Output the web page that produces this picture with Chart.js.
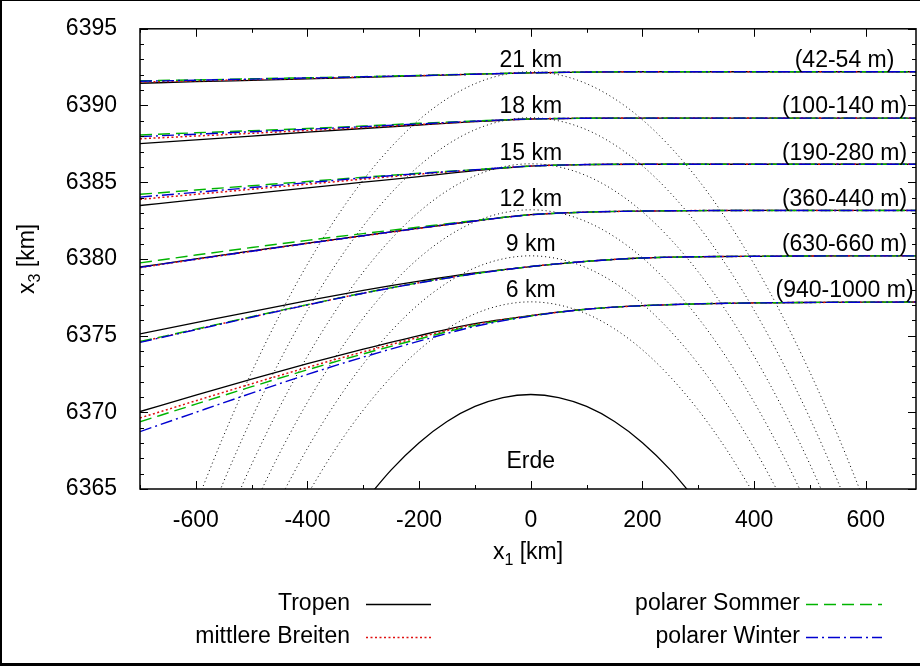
<!DOCTYPE html>
<html>
<head>
<meta charset="utf-8">
<script src="https://cdn.jsdelivr.net/npm/chart.js@4.4.1/dist/chart.umd.min.js"></script>
<style>
  html, body { margin: 0; padding: 0; background: #fff; }
  canvas { display: block; }
</style>
</head>
<body>
<canvas id="chart" width="920" height="666"></canvas>
<script>
// ray paths, x positions in km
const rayX = [-700, -600, -500, -400, -300, -200, -100, 0, 100, 200, 300, 400, 500, 600, 700];
const heightLabels = ['6 km', '9 km', '12 km', '15 km', '18 km', '21 km'];
const rangeLabels = ['(940-1000 m)', '(630-660 m)', '(360-440 m)', '(190-280 m)', '(100-140 m)', '(42-54 m)'];

// left part of each ray, x = -700 .. 0 (one row per height)
const tropen = [
  [6370.05, 6371.12, 6372.17, 6373.18, 6374.12, 6375.00, 6375.78, 6376.30],
  [6375.11, 6375.84, 6376.57, 6377.28, 6377.95, 6378.55, 6379.08, 6379.50],
  [6379.47, 6380.00, 6380.52, 6381.03, 6381.52, 6382.00, 6382.47, 6382.88],
  [6383.48, 6383.86, 6384.25, 6384.63, 6385.00, 6385.37, 6385.75, 6386.05],
  [6387.51, 6387.76, 6388.01, 6388.26, 6388.50, 6388.73, 6388.95, 6389.12],
  [6391.45, 6391.55, 6391.64, 6391.73, 6391.83, 6391.93, 6392.04, 6392.13]
];
const mittlere = [
  [6369.63, 6370.75, 6371.86, 6372.93, 6373.94, 6374.89, 6375.73, 6376.30],
  [6374.59, 6375.40, 6376.21, 6377.01, 6377.77, 6378.45, 6379.04, 6379.50],
  [6379.43, 6379.97, 6380.49, 6381.01, 6381.50, 6381.99, 6382.47, 6382.88],
  [6383.88, 6384.21, 6384.54, 6384.87, 6385.20, 6385.52, 6385.80, 6386.05],
  [6387.83, 6388.01, 6388.19, 6388.37, 6388.56, 6388.76, 6388.96, 6389.12],
  [6391.53, 6391.61, 6391.69, 6391.77, 6391.86, 6391.95, 6392.04, 6392.13]
];
const sommer = [
  [6369.38, 6370.53, 6371.67, 6372.77, 6373.81, 6374.78, 6375.67, 6376.28],
  [6374.61, 6375.42, 6376.23, 6377.02, 6377.77, 6378.45, 6379.04, 6379.50],
  [6379.74, 6380.25, 6380.74, 6381.21, 6381.65, 6382.08, 6382.50, 6382.88],
  [6384.21, 6384.49, 6384.77, 6385.05, 6385.32, 6385.58, 6385.82, 6386.05],
  [6388.08, 6388.22, 6388.36, 6388.50, 6388.66, 6388.84, 6388.99, 6389.12],
  [6391.61, 6391.67, 6391.74, 6391.81, 6391.88, 6391.96, 6392.05, 6392.13]
];
const winter = [
  [6368.74, 6370.00, 6371.25, 6372.47, 6373.60, 6374.64, 6375.60, 6376.27],
  [6374.56, 6375.38, 6376.20, 6377.00, 6377.76, 6378.44, 6379.03, 6379.50],
  [6379.45, 6379.98, 6380.50, 6381.01, 6381.51, 6382.00, 6382.47, 6382.88],
  [6384.03, 6384.34, 6384.65, 6384.97, 6385.28, 6385.56, 6385.81, 6386.05],
  [6387.97, 6388.13, 6388.29, 6388.45, 6388.62, 6388.80, 6388.98, 6389.12],
  [6391.58, 6391.65, 6391.72, 6391.79, 6391.87, 6391.95, 6392.04, 6392.13]
];
// right part, x = 100 .. 700, same for all four atmospheres
const rayRight = [
  [6376.72, 6376.95, 6377.07, 6377.13, 6377.16, 6377.18, 6377.19],
  [6379.84, 6380.06, 6380.14, 6380.17, 6380.19, 6380.20, 6380.20],
  [6383.05, 6383.12, 6383.15, 6383.16, 6383.16, 6383.16, 6383.16],
  [6386.15, 6386.17, 6386.17, 6386.17, 6386.17, 6386.17, 6386.17],
  [6389.17, 6389.18, 6389.18, 6389.18, 6389.18, 6389.18, 6389.18],
  [6392.18, 6392.20, 6392.20, 6392.20, 6392.20, 6392.20, 6392.20]
];

// dotted arcs at constant height
const arcX = [-600, -550, -500, -450, -400, -350, -300, -250, -200, -150, -100, -50, 0,
              50, 100, 150, 200, 250, 300, 350, 400, 450, 500, 550, 600];
const arcs = [
  [null, null, null, null, 6364.66, 6367.60, 6370.15, 6372.30, 6374.07, 6375.44, 6376.42, 6377.00, 6377.20,
   6377.00, 6376.42, 6375.44, 6374.07, 6372.30, 6370.15, 6367.60, 6364.66, null, null, null, null],
  [null, null, null, 6364.33, 6367.66, 6370.60, 6373.15, 6375.30, 6377.07, 6378.44, 6379.42, 6380.00, 6380.20,
   6380.00, 6379.42, 6378.44, 6377.07, 6375.30, 6373.15, 6370.60, 6367.66, 6364.33, null, null, null],
  [null, null, 6363.61, 6367.33, 6370.66, 6373.60, 6376.15, 6378.30, 6380.07, 6381.44, 6382.42, 6383.00, 6383.20,
   6383.00, 6382.42, 6381.44, 6380.07, 6378.30, 6376.15, 6373.60, 6370.66, 6367.33, 6363.61, null, null],
  [null, 6362.49, 6366.61, 6370.33, 6373.66, 6376.60, 6379.15, 6381.30, 6383.07, 6384.44, 6385.42, 6386.00, 6386.20,
   6386.00, 6385.42, 6384.44, 6383.07, 6381.30, 6379.15, 6376.60, 6373.66, 6370.33, 6366.61, 6362.49, null],
  [6360.99, 6365.49, 6369.61, 6373.33, 6376.66, 6379.60, 6382.15, 6384.30, 6386.07, 6387.44, 6388.42, 6389.00, 6389.20,
   6389.00, 6388.42, 6387.44, 6386.07, 6384.30, 6382.15, 6379.60, 6376.66, 6373.33, 6369.61, 6365.49, 6360.99],
  [6363.99, 6368.49, 6372.61, 6376.33, 6379.66, 6382.60, 6385.15, 6387.30, 6389.07, 6390.44, 6391.42, 6392.00, 6392.20,
   6392.00, 6391.42, 6390.44, 6389.07, 6387.30, 6385.15, 6382.60, 6379.66, 6376.33, 6372.61, 6368.49, 6363.99]
];

// Earth surface
const earthX = [-300, -250, -200, -150, -100, -50, 0, 50, 100, 150, 200, 250, 300];
const earth = [6364.10, 6366.25, 6368.02, 6369.40, 6370.38, 6370.96, 6371.16,
               6370.96, 6370.38, 6369.40, 6368.02, 6366.25, 6364.10];

const xTicks = [-600, -400, -200, 0, 200, 400, 600];
const yTicks = [6365, 6370, 6375, 6380, 6385, 6390, 6395];

const FONT = 'Liberation Sans, Arial, Helvetica, sans-serif';
const FS = 23;

const climates = [
  { label: 'Tropen', rows: tropen, color: '#000000', dash: [], width: 1.3, order: 4 },
  { label: 'mittlere Breiten', rows: mittlere, color: '#e01010', dash: [2, 2.5], width: 1.5, order: 3 },
  { label: 'polarer Sommer', rows: sommer, color: '#00b400', dash: [12, 6], width: 1.4, order: 2 },
  { label: 'polarer Winter', rows: winter, color: '#0000d0', dash: [12, 4, 2, 4], width: 1.4, order: 1 }
];

const datasets = [];
arcs.forEach(a => {
  datasets.push({
    data: arcX.map((x, j) => ({ x: x, y: a[j] })),
    borderColor: '#000', borderWidth: 1, borderDash: [1, 3],
    order: 10, clip: 0
  });
});
datasets.push({
  data: earthX.map((x, j) => ({ x: x, y: earth[j] })),
  borderColor: '#000', borderWidth: 1.3, order: 5, clip: 0
});
climates.forEach(c => {
  c.rows.forEach((row, i) => {
    const ys = row.concat(rayRight[i]);
    datasets.push({
      data: rayX.map((x, j) => ({ x: x, y: ys[j] })),
      borderColor: c.color, borderWidth: c.width, borderDash: c.dash,
      order: c.order, clip: 0
    });
  });
});

const deco = {
  id: 'deco',
  afterDraw(chart) {
    const { ctx, chartArea: a, scales: { x, y } } = chart;
    ctx.save();
    ctx.fillStyle = '#000';
    ctx.strokeStyle = '#000';
    ctx.setLineDash([]);

    // ticks on all four sides
    ctx.lineWidth = 1;
    ctx.beginPath();
    for (let v = -700; v <= 690; v += 100) {
      const px = Math.round(x.getPixelForValue(v)) + 0.5;
      const len = xTicks.includes(v) ? 8 : 4;
      ctx.moveTo(px, a.bottom); ctx.lineTo(px, a.bottom - len);
      ctx.moveTo(px, a.top); ctx.lineTo(px, a.top + len);
    }
    for (let v = 6365; v <= 6395; v += 1) {
      const py = Math.round(y.getPixelForValue(v)) + 0.5;
      const len = yTicks.includes(v) ? 8 : 4;
      ctx.moveTo(a.left, py); ctx.lineTo(a.left + len, py);
      ctx.moveTo(a.right, py); ctx.lineTo(a.right - len, py);
    }
    ctx.stroke();

    // plot border
    ctx.lineWidth = 1.5;
    ctx.strokeRect(a.left, a.top, a.right - a.left, a.bottom - a.top);

    // labels inside plot
    ctx.font = FS + 'px ' + FONT;
    ctx.textBaseline = 'alphabetic';
    ctx.textAlign = 'center';
    rayRight.forEach((r, i) => {
      const py = y.getPixelForValue(r[r.length - 1] + 0.3);
      ctx.fillText(heightLabels[i], x.getPixelForValue(0), py);
      ctx.fillText(rangeLabels[i], x.getPixelForValue(562), py);
    });
    ctx.fillText('Erde', x.getPixelForValue(0), y.getPixelForValue(6366.4));

    // axis titles with subscripts
    const sub = Math.round(FS * 0.7) + 'px ' + FONT;
    const big = FS + 'px ' + FONT;
    function subTitle(base, idx, rest) {
      ctx.font = big; const w1 = ctx.measureText(base).width; const w3 = ctx.measureText(rest).width;
      ctx.font = sub; const w2 = ctx.measureText(idx).width;
      const total = w1 + w2 + w3;
      let cx = -total / 2;
      ctx.textAlign = 'left';
      ctx.font = big; ctx.fillText(base, cx, 0); cx += w1;
      ctx.font = sub; ctx.fillText(idx, cx, 6); cx += w2;
      ctx.font = big; ctx.fillText(rest, cx, 0);
    }
    ctx.save();
    ctx.translate((a.left + a.right) / 2, 559);
    subTitle('x', '1', ' [km]');
    ctx.restore();
    ctx.save();
    ctx.translate(34, (a.top + a.bottom) / 2);
    ctx.rotate(-Math.PI / 2);
    subTitle('x', '3', ' [km]');
    ctx.restore();

    // legend, two columns
    const cols = [{ tx: 350, l0: 366, l1: 431 }, { tx: 800, l0: 806, l1: 882 }];
    const rows = [604, 637];
    climates.forEach((c, k) => {
      const col = cols[Math.floor(k / 2)];
      const ry = rows[k % 2];
      ctx.font = big;
      ctx.textAlign = 'right';
      ctx.textBaseline = 'middle';
      ctx.fillStyle = '#000';
      ctx.fillText(c.label, col.tx, ry);
      ctx.strokeStyle = c.color;
      ctx.lineWidth = c.width;
      ctx.setLineDash(c.dash);
      ctx.beginPath();
      ctx.moveTo(col.l0, ry + 0.5); ctx.lineTo(col.l1, ry + 0.5);
      ctx.stroke();
    });
    ctx.setLineDash([]);

    // outer frame
    ctx.fillStyle = '#000';
    ctx.fillRect(0, 0, chart.width, 1);
    ctx.fillRect(0, 0, 2, chart.height);
    ctx.fillRect(0, chart.height - 3, chart.width, 3);
    ctx.restore();
  }
};

new Chart(document.getElementById('chart').getContext('2d'), {
  type: 'line',
  data: { datasets: datasets },
  options: {
    responsive: false,
    animation: false,
    layout: { padding: { top: 15, right: 4, left: 0, bottom: 0 } },
    elements: {
      point: { radius: 0 },
      line: { cubicInterpolationMode: 'monotone', fill: false }
    },
    plugins: { legend: { display: false }, tooltip: { enabled: false } },
    scales: {
      x: {
        type: 'linear', min: -700, max: 690,
        grid: { display: false }, border: { display: false },
        afterBuildTicks: s => { s.ticks = xTicks.map(v => ({ value: v })); },
        afterFit: s => { s.height = 177; },
        ticks: { color: '#000', font: { family: FONT, size: FS }, padding: 10, maxRotation: 0, autoSkip: false,
                 callback: v => String(v) }
      },
      y: {
        type: 'linear', min: 6365, max: 6395,
        grid: { display: false }, border: { display: false },
        afterBuildTicks: s => { s.ticks = yTicks.map(v => ({ value: v })); },
        afterFit: s => { s.width = 140; },
        ticks: { color: '#000', font: { family: FONT, size: FS }, padding: 15,
                 callback: v => String(v) }
      }
    }
  },
  plugins: [deco]
});
</script>
</body>
</html>
